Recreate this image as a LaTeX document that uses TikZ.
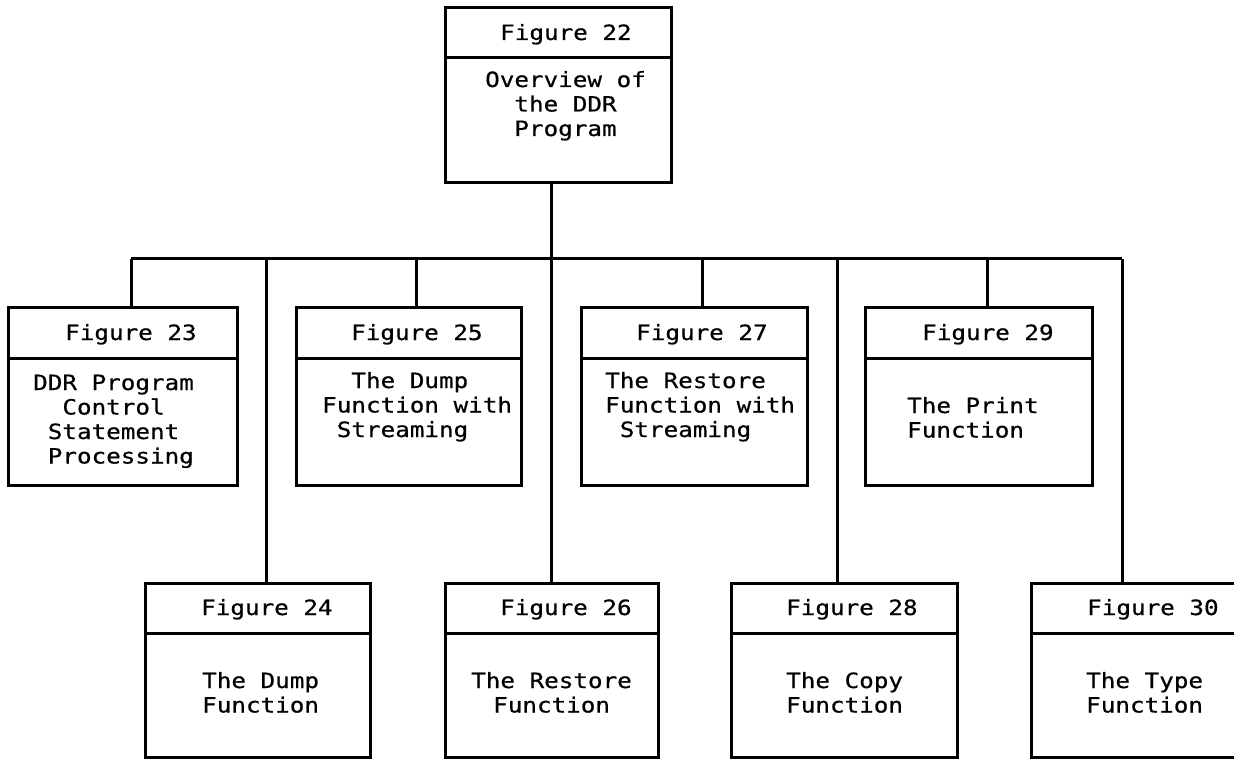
\documentclass[tikz,border=0pt]{standalone}
\usepackage{fontspec}
\newfontfamily\ibmmono[FakeStretch=1.155,FakeBold=0.6]{DejaVu Sans Mono}
\newcommand\hs{\hphantom{0}}
\tikzset{
  figboxstyle/.style={draw, line width=3pt, anchor=north west, inner sep=0pt, outer sep=0pt},
  divider/.style={line width=3pt},
  conn/.style={line width=3pt},
  txt/.style={anchor=base west, inner sep=0pt, font=\ibmmono\fontsize{21}{24.5}\selectfont},
}
\newcommand\figbox[5]{%
  \node[figboxstyle, minimum width=#4pt, minimum height=#5pt] (#1) at (#2,#3) {};
  \draw[divider] ([yshift=-50pt]#1.north west) -- ([yshift=-50pt]#1.north east);
}
\newcommand\lines[1]{\begin{tabular}[t]{@{}l@{}}#1\end{tabular}}
\begin{document}
\begin{tikzpicture}[x=1pt,y=-1pt]
\useasboundingbox (0,0) rectangle (1234,759);
\clip (0,0) rectangle (1234,759);
% boxes
\figbox{n22}{445}{8}{226}{175}
\figbox{n23}{8}{308}{229}{177}
\figbox{n25}{296}{308}{225}{177}
\figbox{n27}{581}{308}{226}{177}
\figbox{n29}{865}{308}{227}{177}
\figbox{n24}{145}{583}{225}{174}
\figbox{n26}{445}{583}{213}{174}
\figbox{n28}{731}{583}{226}{174}
\figbox{n30}{1031}{583}{227}{174}
% texts
\node[txt] (n22h) at (500,40) {Figure 22};
\node[txt] (n22b) at (485,87) {\lines{Overview of\\\hs\hs the DDR\\\hs\hs Program}};
\node[txt] (n23h) at (65,340) {Figure 23};
\node[txt] (n23b) at (33,390) {\lines{DDR Program\\\hs\hs Control\\\hs Statement\\\hs Processing}};
\node[txt] (n25h) at (351,340) {Figure 25};
\node[txt] (n25b) at (322,388) {\lines{\hs\hs The Dump\\Function with\\\hs Streaming}};
\node[txt] (n27h) at (636,340) {Figure 27};
\node[txt] (n27b) at (605,388) {\lines{The Restore\\Function with\\\hs Streaming}};
\node[txt] (n29h) at (922,340) {Figure 29};
\node[txt] (n29b) at (907,413) {\lines{The Print\\Function}};
\node[txt] (n24h) at (201,615) {Figure 24};
\node[txt] (n24b) at (202,688) {\lines{The Dump\\Function}};
\node[txt] (n26h) at (500,615) {Figure 26};
\node[txt] (n26b) at (471,688) {\lines{The Restore\\\hspace*{22pt}Function}};
\node[txt] (n28h) at (786,615) {Figure 28};
\node[txt] (n28b) at (786,688) {\lines{The Copy\\Function}};
\node[txt] (n30h) at (1087,615) {Figure 30};
\node[txt] (n30b) at (1086,688) {\lines{The Type\\Function}};
% connector positions
\coordinate (bus) at (0,259);
\coordinate (x23) at (131,0);
\coordinate (x24) at (266,0);
\coordinate (x25) at (416,0);
\coordinate (x26) at (551,0);
\coordinate (x27) at (702,0);
\coordinate (x28) at (837,0);
\coordinate (x29) at (987,0);
\coordinate (x30) at (1122,0);
% connectors
\draw[conn] (n22.south -| x26) -- (n26.north -| x26);
\draw[conn] (x23 |- bus) -- (x30 |- bus);
\draw[conn] (x23 |- bus) -- (n23.north -| x23);
\draw[conn] (x24 |- bus) -- (n24.north -| x24);
\draw[conn] (x25 |- bus) -- (n25.north -| x25);
\draw[conn] (x27 |- bus) -- (n27.north -| x27);
\draw[conn] (x28 |- bus) -- (n28.north -| x28);
\draw[conn] (x29 |- bus) -- (n29.north -| x29);
\draw[conn] (x30 |- bus) -- (n30.north -| x30);
\end{tikzpicture}
\end{document}
